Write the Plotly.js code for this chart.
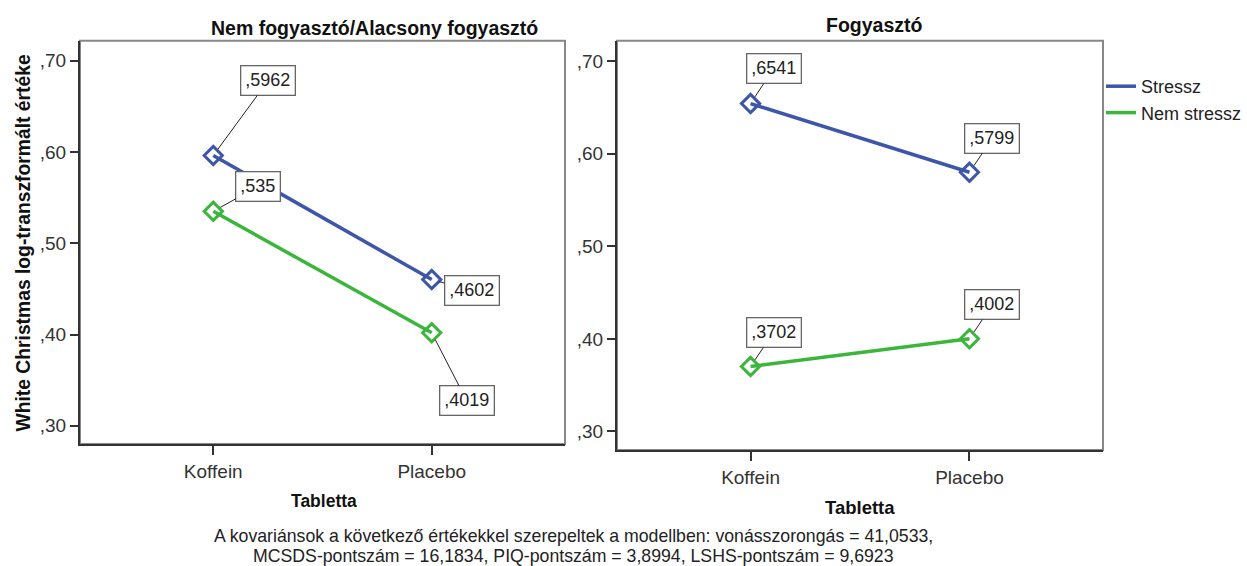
<!DOCTYPE html>
<html>
<head>
<meta charset="utf-8">
<script src="https://cdn.plot.ly/plotly-3.0.1.min.js"></script>
<style>html,body{margin:0;padding:0;background:#fff;}#chart{width:1247px;height:566px;}</style>
</head>
<body>
<div id="chart"></div>
<script>
// ---- data ----
const categories = ["Koffein", "Placebo"];
const panelTitles = ["Nem fogyasztó/Alacsony fogyasztó", "Fogyasztó"];
const seriesNames = ["Stressz", "Nem stressz"];
const leftStressz = [0.5962, 0.4602];
const leftNemStressz = [0.535, 0.4019];
const rightStressz = [0.6541, 0.5799];
const rightNemStressz = [0.3702, 0.4002];
const yTickVals = [0.30, 0.40, 0.50, 0.60, 0.70];
const yTickText = [",30", ",40", ",50", ",60", ",70"];
const yTitle = "White Christmas log-transzformált értéke";
const xTitle = "Tabletta";
const footnoteLines = [
  "A kovariánsok a következő értékekkel szerepeltek a modellben: vonásszorongás = 41,0533,",
  "MCSDS-pontszám = 16,1834, PIQ-pontszám = 3,8994, LSHS-pontszám = 9,6923"
];

// ---- styles / positions ----
const colors = ["#3d56aa", "#3bb63b"];
const W = 1247, H = 566;
const FONT = "Liberation Sans, Arial, sans-serif";
// label offsets in pixels [ax, ay] per (panel, series, category)
const labelOffsets = {
  "x|y|0": [[55, -75], [40, 11]],
  "x|y|1": [[45, -25], [35, 68]],
  "x2|y2|0": [[23, -35], [23, -34]],
  "x2|y2|1": [[23, -34], [23, -34]]
};

function fmt(v) {
  return String(v).replace(/^0\./, ",");
}

const panels = [
  {xa: "x", ya: "y", series: [leftStressz, leftNemStressz]},
  {xa: "x2", ya: "y2", series: [rightStressz, rightNemStressz]}
];

const traces = [];
const annotations = [];
panels.forEach(p => {
  p.series.forEach((vals, si) => {
    traces.push({
      type: "scatter", mode: "lines+markers",
      x: categories, y: vals, xaxis: p.xa, yaxis: p.ya,
      name: seriesNames[si], showlegend: false,
      line: {color: colors[si], width: 3.5},
      marker: {symbol: "diamond-open", size: 14, color: colors[si], line: {width: 3, color: colors[si]}},
      hoverinfo: "skip"
    });
    vals.forEach((v, ci) => {
      const off = labelOffsets[p.xa + "|" + p.ya + "|" + si][ci];
      annotations.push({
        xref: p.xa, yref: p.ya, x: categories[ci], y: v,
        text: fmt(v), showarrow: true, arrowhead: 0, arrowwidth: 1, arrowcolor: "#222",
        standoff: 8, ax: off[0], ay: off[1],
        bgcolor: "#fff", bordercolor: "#666", borderwidth: 1.3, borderpad: 4,
        font: {family: FONT, size: 18, color: "#222"}
      });
    });
  });
});
// legend-only traces
seriesNames.forEach((n, si) => {
  traces.push({
    type: "scatter", mode: "lines", x: [null], y: [null], xaxis: "x2", yaxis: "y2",
    name: n, showlegend: true, line: {color: colors[si], width: 3.5}, hoverinfo: "skip"
  });
});

const xDomL = [80 / W, 565 / W], xDomR = [617 / W, 1103 / W];
const yDomL = [(H - 444) / H, (H - 40.7) / H], yDomR = [(H - 450) / H, (H - 40.7) / H];

function xAxis(dom, anchor) {
  return {
    domain: dom, anchor: anchor, type: "category", categoryorder: "array", categoryarray: categories,
    range: [-0.61, 1.61], showgrid: false, zeroline: false,
    showline: true, linecolor: "#333", linewidth: 2,
    ticks: "outside", ticklen: 9, tickwidth: 2, tickcolor: "#333",
    tickfont: {family: FONT, size: 19, color: "#333"}, fixedrange: true
  };
}
function yAxis(dom, anchor) {
  return {
    domain: dom, anchor: anchor, range: [0.28, 0.722], showgrid: false, zeroline: false,
    showline: true, linecolor: "#333", linewidth: 2,
    ticks: "outside", ticklen: 8, tickwidth: 2, tickcolor: "#333",
    tickvals: yTickVals, ticktext: yTickText,
    tickfont: {family: FONT, size: 19, color: "#333"}, fixedrange: true
  };
}

annotations.push(
  {xref: "paper", yref: "paper", x: 374.5 / W, y: (H - 28) / H, xanchor: "center", yanchor: "middle", showarrow: false,
   text: "<b>" + panelTitles[0] + "</b>", font: {family: FONT, size: 19.5, color: "#111"}},
  {xref: "paper", yref: "paper", x: 875 / W, y: (H - 25) / H, xanchor: "center", yanchor: "middle", showarrow: false,
   text: "<b>" + panelTitles[1] + "</b>", font: {family: FONT, size: 19.5, color: "#111"}},
  {xref: "paper", yref: "paper", x: 22.5 / W, y: (H - 243) / H, xanchor: "center", yanchor: "middle", showarrow: false,
   textangle: -90, text: "<b>" + yTitle + "</b>", font: {family: FONT, size: 19.3, color: "#111"}},
  {xref: "paper", yref: "paper", x: 324 / W, y: (H - 501) / H, xanchor: "center", yanchor: "middle", showarrow: false,
   text: "<b>" + xTitle + "</b>", font: {family: FONT, size: 17.5, color: "#111"}},
  {xref: "paper", yref: "paper", x: 860 / W, y: (H - 507) / H, xanchor: "center", yanchor: "middle", showarrow: false,
   text: "<b>" + xTitle + "</b>", font: {family: FONT, size: 18.5, color: "#111"}},
  {xref: "paper", yref: "paper", x: 573 / W, y: (H - 536) / H, xanchor: "center", yanchor: "middle", showarrow: false,
   text: footnoteLines[0], font: {family: FONT, size: 17.7, color: "#222"}},
  {xref: "paper", yref: "paper", x: 573.5 / W, y: (H - 556) / H, xanchor: "center", yanchor: "middle", showarrow: false,
   text: footnoteLines[1], font: {family: FONT, size: 17.7, color: "#222"}}
);

const shapes = [
  {type: "rect", xref: "x domain", yref: "y domain", x0: 0, x1: 1, y0: 0, y1: 1, layer: "below", line: {color: "#888", width: 2}},
  {type: "rect", xref: "x2 domain", yref: "y2 domain", x0: 0, x1: 1, y0: 0, y1: 1, layer: "below", line: {color: "#888", width: 2}}
];

const layout = {
  width: W, height: H, margin: {l: 0, r: 0, t: 0, b: 0},
  paper_bgcolor: "#fff", plot_bgcolor: "#fff",
  font: {family: FONT, color: "#222"},
  xaxis: xAxis(xDomL, "y"), yaxis: yAxis(yDomL, "x"),
  xaxis2: xAxis(xDomR, "y2"), yaxis2: yAxis(yDomR, "x2"),
  showlegend: true,
  legend: {x: 1101 / W, y: (H - 68) / H, xanchor: "left", yanchor: "top", bgcolor: "rgba(0,0,0,0)",
           font: {family: FONT, size: 18, color: "#222"}, tracegroupgap: 0},
  annotations: annotations, shapes: shapes
};

Plotly.newPlot("chart", traces, layout, {displayModeBar: false, staticPlot: true});
</script>
</body>
</html>
